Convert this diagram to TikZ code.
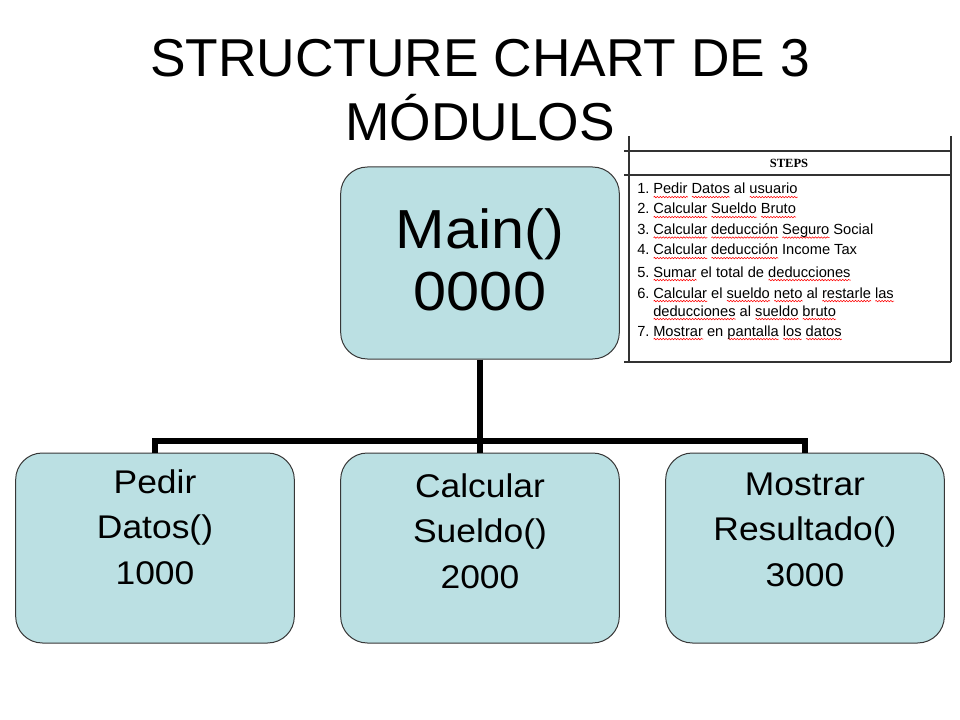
\documentclass[tikz,border=0pt]{standalone}
\usepackage{fontspec}
\setmainfont{Liberation Sans}
\newfontfamily\headfont{Liberation Serif}
\newfontfamily\widefont[FakeStretch=1.08]{Liberation Sans}
\usetikzlibrary{decorations.pathmorphing}
\newsavebox\spellbox
\newcommand\spell[1]{\sbox\spellbox{#1}\rlap{\tikz[baseline=0pt, x=1pt, y=1pt]
    \draw[red, line width=0.4pt, decorate, decoration={snake, amplitude=0.55pt, segment length=2.2pt}]
    (0pt,-2.3pt) -- (\the\wd\spellbox,-2.3pt);}\usebox\spellbox}
\definecolor{boxfill}{RGB}{187,224,227}
\definecolor{boxline}{RGB}{55,55,55}
\definecolor{tablegray}{RGB}{50,50,50}

\begin{document}
\begin{tikzpicture}[x=0.75pt, y=-0.75pt]

\def\boxwidth{209pt};
\def\boxheight{142.5pt};
\tikzset{module/.style={
    rectangle,
    rounded corners=20pt,
    draw=boxline,
    line width=0.75pt,
    fill=boxfill,
    minimum width=\boxwidth,
    minimum height=\boxheight,
    inner sep=0pt
}};
\tikzset{module text/.style={
    align=center,
    inner sep=0pt,
    font=\widefont\fontsize{24.6pt}{34.1pt}\selectfont
}};
\tikzset{connector/.style={line width=4.5pt, black}};
\tikzset{table line/.style={line width=1pt, tablegray}};
\tikzset{step text/.style={
    anchor=base west,
    inner sep=0pt,
    font=\fontsize{11pt}{13pt}\selectfont
}};

\useasboundingbox (0,0) rectangle (960,720);

\node[align=center, inner sep=0pt, font=\fontsize{40pt}{48pt}\selectfont]
    (title) at (480,90) {STRUCTURE CHART DE 3\\MÓDULOS};

\node[module, minimum height=144pt, label={[module text, yshift=2.6pt,
    font=\widefont\fontsize{41.25pt}{46.5pt}\selectfont]center:Main()\\0000}]
    (main) at (480,263) {};

\foreach \txt/\up [count=\i] in {{Pedir\\Datos()\\1000}/15.75pt,
        {Calcular\\Sueldo()\\2000}/12.75pt, {Mostrar\\Resultado()\\3000}/13.9pt} {
    \node[module, label={[module text, yshift=\up]center:\txt}] (mod\i)
        at ({155+(\i-1)*325},548) {};
}

\coordinate (bar) at (480,441);
\draw[connector] (main.south) -- (bar);
\foreach \i in {1,2,3} {
    \draw[connector] (bar) -| (mod\i.north);
}

\draw[table line] (629,136) -- (629,362);
\draw[table line] (951,136) -- (951,362);
\draw[table line] (624,151) -- (951,151);
\draw[table line] (624,175) -- (951,175);
\draw[table line] (624,362) -- (951,362);

\node[anchor=base, inner sep=0pt, font=\headfont\bfseries\fontsize{9.4pt}{11pt}\selectfont]
    (steps) at (789,168) {STEPS};

\foreach \yy/\num/\txt [count=\i] in {
        194/1./{\spell{Pedir} \spell{Datos} al \spell{usuario}},
        214/2./{\spell{Calcular} \spell{Sueldo} \spell{Bruto}},
        234.5/3./{\spell{Calcular} \spell{deducción} \spell{Seguro} Social},
        255/4./{\spell{Calcular} \spell{deducción} Income Tax},
        277/5./{\spell{Sumar} el total de \spell{deducciones}},
        298/6./{\spell{Calcular} el \spell{sueldo} \spell{neto} al \spell{restarle} \spell{las}},
        336/7./{\spell{Mostrar} en \spell{pantalla} \spell{los} \spell{datos}}} {
    \node[step text] (num\i) at (637,\yy) {\num};
    \node[step text] (step\i) at (653,\yy) {\txt};
}
\node[step text] (step6b) at (653,316)
    {\spell{deducciones} al \spell{sueldo} \spell{bruto}};
\end{tikzpicture}
\end{document}
